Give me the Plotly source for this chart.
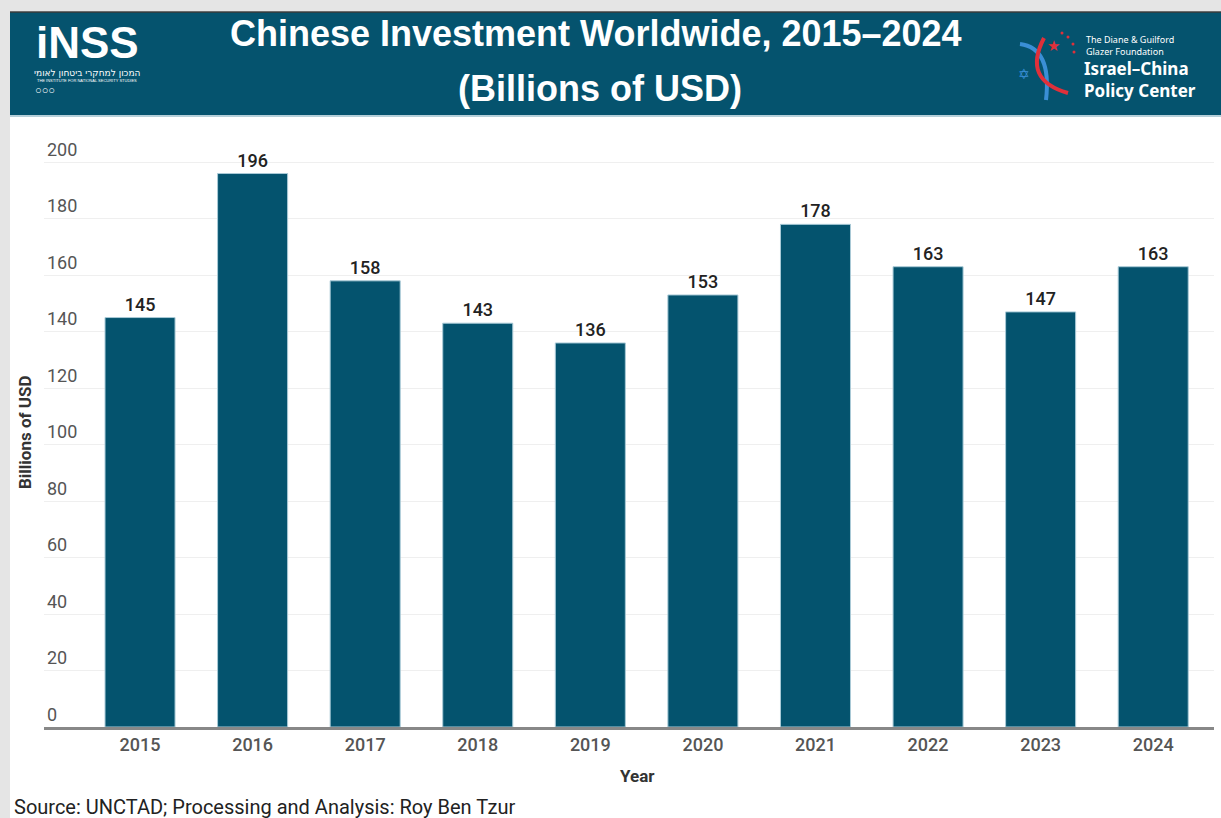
import plotly.graph_objects as go

years = ["2015", "2016", "2017", "2018", "2019", "2020", "2021", "2022", "2023", "2024"]
values = [145, 196, 158, 143, 136, 153, 178, 163, 147, 163]
y_ticks = [0, 20, 40, 60, 80, 100, 120, 140, 160, 180, 200]

W, H = 1221, 818
L, R, T, B = 44, 7, 134, 91
PW, PH = W - L - R, H - T - B

def px(x):
    return (x - L) / PW

def py(y):
    return (H - B - y) / PH

BAR = "#04536e"
HEAD = "#05536e"

fig = go.Figure()
fig.add_trace(go.Bar(
    x=list(range(len(years))), y=values,
    marker=dict(color=BAR, line=dict(color="#a9cad7", width=1)),
    width=0.622,
    text=[str(v) for v in values], textposition="outside",
    textfont=dict(family="Roboto", size=18, color="#222222", weight=500),
    cliponaxis=False, hoverinfo="skip",
))

shapes = []
# gray page edges
shapes.append(dict(type="rect", xref="paper", yref="paper", x0=px(0), x1=px(10), y0=py(818), y1=py(0),
                   fillcolor="#e5e5e5", line=dict(width=0), layer="above"))
shapes.append(dict(type="rect", xref="paper", yref="paper", x0=px(0), x1=px(1221), y0=py(11), y1=py(0),
                   fillcolor="#e5e5e5", line=dict(width=0), layer="above"))
# header band
shapes.append(dict(type="rect", xref="paper", yref="paper", x0=px(10), x1=px(1221), y0=py(115), y1=py(12),
                   fillcolor=HEAD, line=dict(width=0), layer="above"))
shapes.append(dict(type="line", xref="paper", yref="paper", x0=px(10), x1=px(1221), y0=py(12), y1=py(12),
                   line=dict(color="#3a3a3a", width=1.5), layer="above"))
shapes.append(dict(type="line", xref="paper", yref="paper", x0=px(10), x1=px(1221), y0=py(116), y1=py(116),
                   line=dict(color="#b5cfd9", width=2), layer="above"))
# logo arcs (decorative)
shapes.append(dict(type="path", xref="paper", yref="paper", layer="above",
                   path=f"M {px(1020)},{py(44)} Q {px(1052)},{py(48)} {px(1046)},{py(100)}",
                   line=dict(color="#3a8fd6", width=4)))
shapes.append(dict(type="path", xref="paper", yref="paper", layer="above",
                   path=f"M {px(1044)},{py(38)} Q {px(1022)},{py(80)} {px(1068)},{py(93)}",
                   line=dict(color="#e0303a", width=4)))
for (cx, cy) in [(1068, 37), (1073, 44), (1074, 52), (1062, 33)]:
    shapes.append(dict(type="circle", xref="paper", yref="paper", layer="above",
                       x0=px(cx - 1.5), x1=px(cx + 1.5), y0=py(cy + 1.5), y1=py(cy - 1.5),
                       fillcolor="#e0303a", line=dict(width=0)))

ann = []
def text(x, y, t, size, color="white", family="Liberation Sans", weight="normal", xanchor="center", yanchor="middle", angle=0, align="center"):
    ann.append(dict(xref="paper", yref="paper", x=px(x), y=py(y), text=t, showarrow=False,
                    xanchor=xanchor, yanchor=yanchor, textangle=angle, align=align,
                    font=dict(family=family, size=size, color=color, weight=weight)))

text(596, 33, "Chinese Investment Worldwide, 2015–2024", 36, weight="bold")
text(600, 88, "(Billions of USD)", 36, weight="bold")

# INSS logo (text approximation)
text(87, 42, "iNSS", 44, weight="bold", family="Liberation Sans")
text(87, 73, "המכון למחקרי ביטחון לאומי", 9, family="DejaVu Sans")
text(87, 80, "THE INSTITUTE FOR NATIONAL SECURITY STUDIES", 4, family="Liberation Sans")
text(33, 90, "○○○", 11, weight="bold", xanchor="left")

# Israel-China Policy Center logo (text approximation)
text(1084, 46, "The Diane & Guilford<br>Glazer Foundation", 9, family="Noto Sans", xanchor="left", align="left")
text(1082, 79, "Israel–China<br>Policy Center", 17, family="Noto Sans", weight="bold", xanchor="left", align="left")
text(1053, 46, "★", 15, color="#e0303a", family="DejaVu Sans")
text(1024, 74, "✡", 14, color="#3a8fd6", family="DejaVu Sans")

# axis titles and source
text(25, 432, "Billions of USD", 17, color="#333333", family="Roboto", weight="bold", angle=-90)
text(637, 776, "Year", 17, color="#333333", family="Roboto", weight="bold")
text(12, 807, "Source: UNCTAD; Processing and Analysis: Roy Ben Tzur", 20, color="#222222", family="Roboto", xanchor="left")

fig.update_layout(
    width=W, height=H,
    margin=dict(l=L, r=R, t=T, b=B),
    paper_bgcolor="white", plot_bgcolor="white",
    showlegend=False,
    shapes=shapes, annotations=ann,
    xaxis=dict(
        range=[-0.853, 9.54],
        tickmode="array", tickvals=list(range(len(years))), ticktext=years,
        tickfont=dict(family="Roboto", size=18, color="#555555", weight=500),
        showgrid=False, showline=True, linecolor="#888888", linewidth=2.5,
        ticks="", zeroline=False, fixedrange=True,
    ),
    yaxis=dict(
        range=[0, 210],
        tickmode="array", tickvals=y_ticks, ticktext=[str(t) for t in y_ticks],
        ticklabelposition="inside top",
        tickfont=dict(family="Roboto", size=18, color="#555555"),
        showgrid=True, gridcolor="#efefef", gridwidth=1,
        zeroline=False, showline=False, ticks="", fixedrange=True,
    ),
)

fig.write_html("out.html")
